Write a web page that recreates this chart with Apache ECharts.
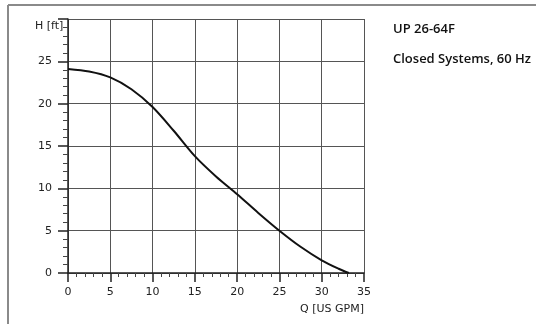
<!DOCTYPE html>
<html>
<head>
<meta charset="utf-8">
<script src="https://cdn.jsdelivr.net/npm/echarts@6/dist/echarts.min.js"></script>
<style>
html,body{margin:0;padding:0;background:#fff;}
#chart{width:536px;height:324px;}
</style>
</head>
<body>
<div id="chart"></div>
<script>
var flowQ = [0, 2.5, 5, 7.5, 10, 12.5, 15, 17.5, 20, 22.5, 25, 27.5, 30, 32, 33.2];
var headH = [24.1, 23.8, 23.1, 21.7, 19.6, 16.8, 13.8, 11.4, 9.3, 7.1, 5.0, 3.1, 1.5, 0.5, 0];
var titleLines = ['UP 26-64F', 'Closed Systems, 60 Hz'];
var xName = 'Q [US GPM]';
var yName = 'H [ft]';

var chart = echarts.init(document.getElementById('chart'), null, {renderer: 'canvas'});
var pts = flowQ.map(function (q, i) { return [q, headH[i]]; });
var labelFont = {color: '#222', fontFamily: 'DejaVu Sans', fontSize: 11};
chart.setOption({
  animation: false,
  grid: {left: 68, right: 172, top: 19, bottom: 51},
  xAxis: {
    type: 'value', min: 0, max: 35, interval: 5,
    axisLine: {show: true, lineStyle: {color: '#222', width: 1.5}},
    axisTick: {show: true, length: 9, lineStyle: {color: '#222', width: 1.5}},
    minorTick: {show: true, splitNumber: 5, length: 4, lineStyle: {color: '#444', width: 1}},
    splitLine: {show: true, lineStyle: {color: '#555', width: 1}},
    axisLabel: Object.assign({margin: 14}, labelFont)
  },
  yAxis: {
    type: 'value', min: 0, max: 30, interval: 5,
    axisLine: {show: true, lineStyle: {color: '#222', width: 1.5}},
    axisTick: {show: true, length: 10, lineStyle: {color: '#222', width: 1.5}},
    minorTick: {show: true, splitNumber: 5, length: 5, lineStyle: {color: '#444', width: 1}},
    splitLine: {show: true, lineStyle: {color: '#555', width: 1}},
    axisLabel: Object.assign({margin: 16, formatter: function (v) { return v === 30 ? '' : String(v); }}, labelFont)
  },
  series: [{
    type: 'line', data: pts, smooth: 0.3, showSymbol: false,
    lineStyle: {color: '#111', width: 2}
  }],
  graphic: [
    {type: 'line', shape: {x1: 8, y1: 5, x2: 8, y2: 324}, style: {stroke: '#8a8a8a', lineWidth: 2}},
    {type: 'line', shape: {x1: 8, y1: 5, x2: 536, y2: 5}, style: {stroke: '#8a8a8a', lineWidth: 2}},
    {type: 'text', left: 35, top: 21, style: {text: yName, fill: '#222', font: '11px "DejaVu Sans"'}},
    {type: 'text', right: 172, top: 304, style: {text: xName, fill: '#222', font: '11px "DejaVu Sans"'}},
    {type: 'text', left: 393, top: 23, style: {text: titleLines[0], fill: '#111', font: '600 13px "Open Sans"'}},
    {type: 'text', left: 393, top: 53, style: {text: titleLines[1], fill: '#111', font: '600 13px "Open Sans"'}}
  ]
});
</script>
</body>
</html>
